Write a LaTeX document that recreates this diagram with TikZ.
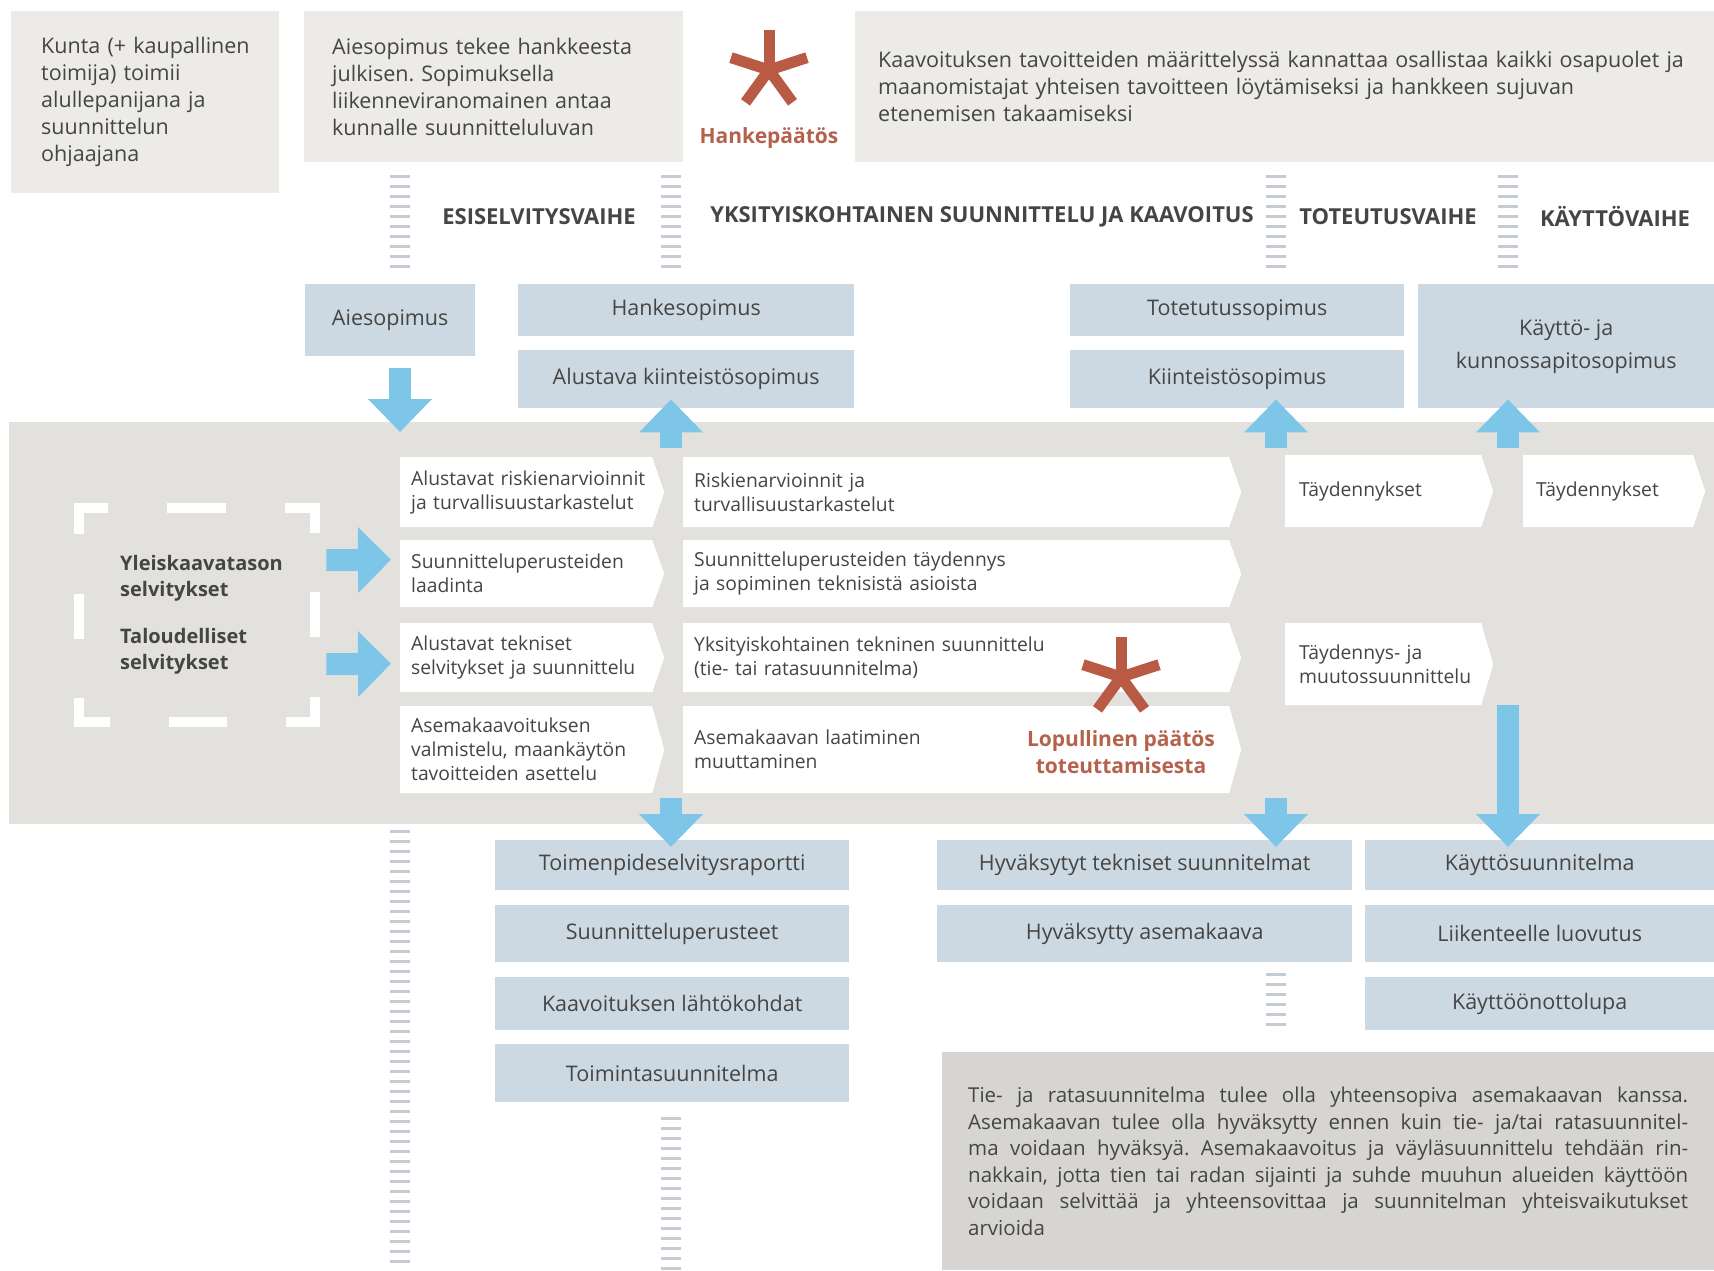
\documentclass[tikz,border=0pt]{standalone}
\usepackage{fontspec}
\setmainfont{Open Sans}
\usetikzlibrary{arrows.meta,calc}

\definecolor{paleGray}{HTML}{ECEBE7}
\definecolor{bandGray}{HTML}{E2E1DD}
\definecolor{noteGray}{HTML}{D6D5D1}
\definecolor{boxBlue}{HTML}{CDD9E2}
\definecolor{arrowBlue}{HTML}{7EC6E8}
\definecolor{rust}{HTML}{B85A44}
\definecolor{rustText}{HTML}{B5624D}
\definecolor{tickGray}{HTML}{C7CBD3}
\definecolor{inkGray}{HTML}{454545}

\newcommand{\fs}[2]{\frenchspacing\fontsize{#1}{#2}\selectfont}
% five armed star for the decisions
\newcommand{\tahti}[3]{%
  \foreach \a in {-90,-18,-162,54,126} \draw[star] (#1,#2) -- ++(\a:#3);}

\begin{document}
\begin{tikzpicture}[x=1pt,y=-1pt,
   infobox/.style={fill=paleGray,anchor=north west,align=left,inner ysep=0pt,font=\fs{21.5}{27},text=inkGray},
   bluebox/.style={fill=boxBlue,anchor=north west,align=center,inner sep=0pt,font=\fs{21.5}{27},text=inkGray},
   phase/.style={font=\bfseries\fs{22}{25},text=inkGray},
   chev/.style={anchor=north west,inner xsep=11pt,inner ysep=0pt,align=left,font=\fs{19.3}{24},text=inkGray,
     fill=bandGray,
     path picture={\fill[white] (path picture bounding box.north west)
        -- ([xshift=-12pt]path picture bounding box.north east) -- (path picture bounding box.east)
        -- ([xshift=-12pt]path picture bounding box.south east) -- (path picture bounding box.south west) -- cycle;}},
   sidetext/.style={align=left,inner sep=0pt,font=\bfseries\fs{20}{26},text=inkGray},
   decision/.style={align=center,inner sep=0pt,font=\bfseries\fs{21}{27},text=rustText},
   ticks/.style={tickGray,line width=20pt,dash pattern=on 3pt off 7pt},
   fatarrow/.style={arrowBlue,line width=22pt,-{Triangle[width=62pt,length=33pt]}},
   star/.style={rust,line width=11pt},
   dashframe/.style={white,line width=10pt,line join=miter,
     dash pattern=on 29pt off 59pt on 55pt off 59.5pt on 45pt off 59.5pt on 55pt off 59pt on 58pt off 59pt on 55pt off 59.5pt on 45pt off 59.5pt on 55pt off 59pt on 29pt off 0pt}]
\useasboundingbox (0,0) rectangle (1714,1270);

% top notes
\node[infobox,inner xsep=30pt,text width=208pt,minimum height=182pt] (kunta) at (11,11)
   {\mbox{Kunta (+ kaupallinen}\\toimija) toimii\\alullepanijana ja\\suunnittelun\\ohjaajana};
\node[infobox,inner xsep=28pt,text width=323pt,minimum height=151pt] (julk) at (304,11)
   {Aiesopimus tekee hankkeesta\\julkisen. Sopimuksella\\liikenneviranomainen antaa\\kunnalle suunnitteluluvan};
\node[infobox,inner xsep=23pt,text width=813pt,minimum height=151pt] (osal) at (855,11)
   {Kaavoituksen tavoitteiden määrittelyssä kannattaa osallistaa kaikki osapuolet ja\\maanomistajat yhteisen tavoitteen löytämiseksi ja hankkeen sujuvan\\etenemisen takaamiseksi};
\tahti{769}{70}{40}
\node[decision] (hanke) at (769,138) {Hankepäätös};

% phases
\coordinate (sepA) at (400,217);
\coordinate (sepB) at (671,217);
\coordinate (sepC) at (1276,217);
\coordinate (sepD) at (1508,217);
\foreach \x in {400,671,1276,1508} \draw[ticks] (\x,175) -- (\x,268);
\node[phase] (ph1) at (539,217) {ESISELVITYSVAIHE};
\node[phase] (ph2) at (982,217) {YKSITYISKOHTAINEN SUUNNITTELU JA KAAVOITUS};
\node[phase] (ph3) at (1388,217) {TOTEUTUSVAIHE};
\node[phase] (ph4) at (1615,217) {KÄYTTÖVAIHE};

% agreements
\node[bluebox,minimum width=170pt,minimum height=72pt] (aie) at (305,284) {Aiesopimus};
\node[bluebox,minimum width=336pt,minimum height=52pt] (hanks) at (518,284) {Hankesopimus};
\node[bluebox,minimum width=336pt,minimum height=58pt] (alu) at (518,350) {Alustava kiinteistösopimus};
\node[bluebox,minimum width=334pt,minimum height=52pt] (tot) at (1070,284) {Totetutussopimus};
\node[bluebox,minimum width=334pt,minimum height=58pt] (kiin) at (1070,350) {Kiinteistösopimus};
\node[bluebox,minimum width=296pt,minimum height=124pt,font=\fs{21.5}{33}] (kayt) at (1418,284) {Käyttö- ja\\kunnossapitosopimus};

% process band
\node[fill=bandGray,anchor=north west,minimum width=1705pt,minimum height=402pt,inner sep=0pt] (band) at (9,422) {};
\node[anchor=north west,minimum width=236pt,minimum height=214pt,inner sep=0pt] (yleis) at (79,508) {};
\draw[dashframe] (yleis.north) -- (yleis.north east) -- (yleis.south east) -- (yleis.south west) -- (yleis.north west) -- cycle;
\node[sidetext,anchor=west] (yltxt) at ($(yleis.west)+(41,0)$)
   {Yleiskaavatason\\selvitykset\\[21pt]Taloudelliset\\selvitykset};

\node[chev,text width=242pt,minimum height=70pt] (c11) at (400,457) {Alustavat riskienarvioinnit\\ja turvallisuustarkastelut};
\node[chev,text width=242pt,minimum height=67pt] (c12) at (400,540) {Suunnitteluperusteiden\\laadinta};
\node[chev,text width=242pt,minimum height=69pt] (c13) at (400,623) {Alustavat tekniset\\selvitykset ja suunnittelu};
\node[chev,text width=242pt,minimum height=87pt] (c14) at (400,706) {Asemakaavoituksen\\valmistelu, maankäytön\\tavoitteiden asettelu};
\node[chev,text width=536pt,minimum height=70pt] (c21) at (683,457) {Riskienarvioinnit ja\\turvallisuustarkastelut};
\node[chev,text width=536pt,minimum height=67pt] (c22) at (683,540) {Suunnitteluperusteiden täydennys\\ja sopiminen teknisistä asioista};
\node[chev,text width=536pt,minimum height=69pt] (c23) at (683,623) {Yksityiskohtainen tekninen suunnittelu\\(tie- tai ratasuunnitelma)};
\node[chev,text width=536pt,minimum height=87pt] (c24) at (683,706) {Asemakaavan laatiminen\\muuttaminen};
\node[chev,inner xsep=14pt,text width=180pt,minimum height=72pt] (c31) at (1285,455) {Täydennykset};
\node[chev,inner xsep=14pt,text width=180pt,minimum height=82pt] (c33) at (1285,623) {Täydennys- ja\\muutossuunnittelu};
\node[chev,inner xsep=13pt,text width=156pt,minimum height=72pt] (c41) at (1523,455) {Täydennykset};

\tahti{1121}{677}{40}
\node[decision,font=\bfseries\fs{21}{27}] (lopu) at (1121,752) {Lopullinen päätös\\toteuttamisesta};

% outputs
\node[bluebox,minimum width=354pt,minimum height=50pt] (toim) at (495,840) {Toimenpideselvitysraportti};
\node[bluebox,minimum width=354pt,minimum height=57pt] (suun) at (495,905) {Suunnitteluperusteet};
\node[bluebox,minimum width=354pt,minimum height=53pt] (kaav) at (495,977) {Kaavoituksen lähtökohdat};
\node[bluebox,minimum width=354pt,minimum height=58pt] (tsuu) at (495,1044) {Toimintasuunnitelma};
\node[bluebox,minimum width=415pt,minimum height=50pt] (hyvt) at (937,840) {Hyväksytyt tekniset suunnitelmat};
\node[bluebox,minimum width=415pt,minimum height=57pt] (hyva) at (937,905) {Hyväksytty asemakaava};
\node[bluebox,minimum width=349pt,minimum height=50pt] (kayts) at (1365,840) {Käyttösuunnitelma};
\node[bluebox,minimum width=349pt,minimum height=57pt] (liik) at (1365,905) {Liikenteelle luovutus};
\node[bluebox,minimum width=349pt,minimum height=53pt] (kayto) at (1365,977) {Käyttöönottolupa};

\draw[ticks] (400,830) -- (400,1270);
\draw[ticks] (671,1117) -- (671,1270);
\draw[ticks] (1276,973) -- (1276,1028);

\node[fill=noteGray,anchor=north west,inner xsep=26pt,inner ysep=0pt,text width=720pt,minimum height=218pt,
      align=justify,font=\fs{20.5}{26.5},text=inkGray] (note) at (942,1052)
   {\makebox[720pt][s]{Tie- ja ratasuunnitelma tulee olla yhteensopiva asemakaavan kanssa.}\\
    \makebox[720pt][s]{Asemakaavan tulee olla hyväksytty ennen kuin tie- ja/tai ratasuunnitel-}\\
    \makebox[720pt][s]{ma voidaan hyväksyä. Asemakaavoitus ja väyläsuunnittelu tehdään rin-}\\
    \makebox[720pt][s]{nakkain, jotta tien tai radan sijainti ja suhde muuhun alueiden käyttöön}\\
    \makebox[720pt][s]{voidaan selvittää ja yhteensovittaa ja suunnitelman yhteisvaikutukset}\\
    arvioida\par};

% arrows
\draw[fatarrow] ($(aie.south -| sepA)+(0,12)$) -- ($(band.north -| sepA)+(0,10)$);
\draw[fatarrow] ($(c11.north -| sepB)+(0,-9)$) -- ($(alu.south -| sepB)+(0,-9)$);
\draw[fatarrow] ($(c11.north -| sepC)+(0,-9)$) -- ($(kiin.south -| sepC)+(0,-9)$);
\draw[fatarrow] ($(c11.north -| sepD)+(0,-9)$) -- ($(kayt.south -| sepD)+(0,-9)$);
\draw[fatarrow] ($(toim.north -| sepB)+(0,-42)$) -- ($(toim.north -| sepB)+(0,7)$);
\draw[fatarrow] ($(hyvt.north -| sepC)+(0,-42)$) -- ($(hyvt.north -| sepC)+(0,7)$);
\draw[fatarrow] (c33.south -| sepD) -- ($(kayts.north -| sepD)+(0,7)$);
\draw[fatarrow,-{Triangle[width=64pt,length=33pt]}] ($(yleis.east)+(11,-55)$) -- ($(c12.west)+(-9,-14)$);
\draw[fatarrow,-{Triangle[width=64pt,length=33pt]}] ($(yleis.east)+(11,49)$) -- ($(c13.west)+(-9,6)$);
\end{tikzpicture}
\end{document}
